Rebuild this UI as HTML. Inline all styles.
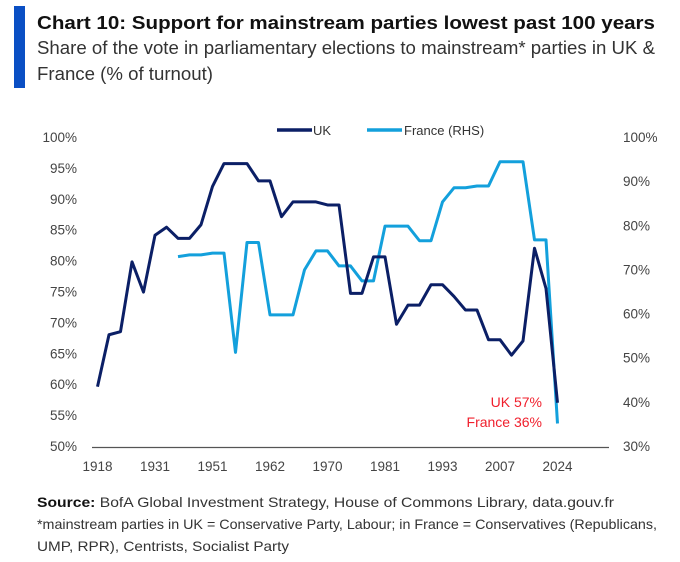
<!DOCTYPE html>
<html><head><meta charset="utf-8"><style>
body{margin:0;background:#fff;font-family:"Liberation Sans",sans-serif;}
svg{display:block}
</style></head><body>
<svg width="680" height="562" xmlns="http://www.w3.org/2000/svg" font-family="Liberation Sans, sans-serif">
<rect x="14" y="6" width="11" height="82" fill="#0a4fc4"/>
<text x="37" y="29" font-size="18.5" font-weight="bold" fill="#111" textLength="618" lengthAdjust="spacingAndGlyphs">Chart 10: Support for mainstream parties lowest past 100 years</text>
<text x="37" y="54" font-size="18" fill="#333" textLength="618" lengthAdjust="spacingAndGlyphs">Share of the vote in parliamentary elections to mainstream* parties in UK &amp;</text>
<text x="37" y="80" font-size="18" fill="#333" textLength="176" lengthAdjust="spacingAndGlyphs">France (% of turnout)</text>
<g>
<line x1="277" y1="130" x2="312" y2="130" stroke="#0b1f66" stroke-width="3.5"/>
<text x="313" y="135" font-size="13" fill="#333">UK</text>
<line x1="367" y1="130" x2="402" y2="130" stroke="#13a0dc" stroke-width="3.5"/>
<text x="404" y="135" font-size="13" fill="#333">France (RHS)</text>
</g>
<g id="axes"></g>
<g id="series"></g>
<text x="542" y="407" font-size="14" fill="#f0202d" text-anchor="end">UK 57%</text>
<text x="542" y="427" font-size="14" fill="#f0202d" text-anchor="end">France 36%</text>
<text x="37" y="507" font-size="14" fill="#333" textLength="577" lengthAdjust="spacingAndGlyphs"><tspan font-weight="bold" fill="#111">Source:</tspan> BofA Global Investment Strategy, House of Commons Library, data.gouv.fr</text>
<text x="37" y="529" font-size="14" fill="#333" textLength="620" lengthAdjust="spacingAndGlyphs">*mainstream parties in UK = Conservative Party, Labour; in France = Conservatives (Republicans,</text>
<text x="37" y="551" font-size="14" fill="#333" textLength="252" lengthAdjust="spacingAndGlyphs">UMP, RPR), Centrists, Socialist Party</text>
</svg>
<script>
const xLabels=["1918","1931","1951","1962","1970","1981","1993","2007","2024"];
const leftTicks=[50,55,60,65,70,75,80,85,90,95,100];
const rightTicks=[30,40,50,60,70,80,90,100];
const ukValues=[59.6,68.0,68.5,79.8,74.9,84.1,85.4,83.6,83.6,85.8,92.0,95.7,95.7,95.7,92.9,92.9,87.1,89.5,89.5,89.5,89.0,89.0,74.7,74.7,80.6,80.6,69.7,72.8,72.8,76.1,76.1,74.2,72.0,72.0,67.2,67.2,64.7,67.0,82.0,75.5,57.0];
const franceStart=7;
const franceValues=[72.9,73.3,73.3,73.7,73.7,51.2,76.1,76.1,59.7,59.7,59.7,69.9,74.2,74.2,70.8,70.8,67.4,67.4,79.8,79.8,79.8,76.5,76.5,85.3,88.5,88.5,88.9,88.9,94.4,94.4,94.4,76.7,76.7,35.1];
const NS="http://www.w3.org/2000/svg";
const xs=i=>97.5+i*11.5;
const yL=v=>446-(v-50)*6.18;
const yR=v=>446-(v-30)*4.414;
const axes=document.getElementById('axes'),ser=document.getElementById('series');
function mk(tag,attrs,parent){const e=document.createElementNS(NS,tag);for(const k in attrs)e.setAttribute(k,attrs[k]);parent.appendChild(e);return e;}
const ax=mk('line',{x1:92,x2:609,y1:447.5,y2:447.5,stroke:'#555','stroke-width':1.3},axes);


leftTicks.forEach(v=>{const t=mk('text',{x:77,y:yL(v)+5,'font-size':13.5,fill:'#444','text-anchor':'end'},axes);t.textContent=v+'%';

});
rightTicks.forEach(v=>{const t=mk('text',{x:623,y:yR(v)+5,'font-size':13.5,fill:'#444'},axes);t.textContent=v+'%';

});
xLabels.forEach((l,i)=>{const t=mk('text',{x:xs(i*5),y:471,'font-size':13.5,fill:'#444','text-anchor':'middle'},axes);t.textContent=l;

});
const fr=mk('polyline',{points:franceValues.map((v,i)=>xs(i+franceStart)+','+yR(v)).join(' '),fill:'none',stroke:'#13a0dc','stroke-width':3,'stroke-linejoin':'round'},ser);


const uk=mk('polyline',{points:ukValues.map((v,i)=>xs(i)+','+yL(v)).join(' '),fill:'none',stroke:'#0b1f66','stroke-width':3,'stroke-linejoin':'round'},ser);


</script>
</body></html>
